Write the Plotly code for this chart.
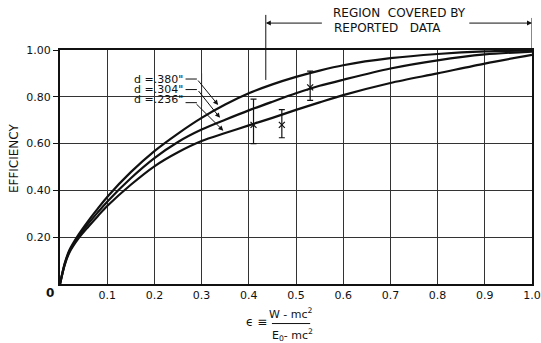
import plotly.graph_objects as go

# ---- data ----
eps = [0, 0.01, 0.02, 0.04, 0.06, 0.08, 0.1, 0.15, 0.2, 0.25, 0.3, 0.35,
       0.4, 0.45, 0.5, 0.55, 0.6, 0.7, 0.8, 0.9, 1.0]
eff_380 = [0, 0.088, 0.145, 0.213, 0.27, 0.322, 0.372, 0.478, 0.568, 0.643, 0.71, 0.767,
           0.815, 0.853, 0.885, 0.912, 0.935, 0.965, 0.983, 0.994, 0.998]
eff_304 = [0, 0.085, 0.14, 0.205, 0.258, 0.306, 0.352, 0.452, 0.538, 0.607, 0.66, 0.702,
           0.742, 0.779, 0.815, 0.847, 0.873, 0.921, 0.956, 0.981, 0.993]
eff_236 = [0, 0.082, 0.135, 0.197, 0.245, 0.29, 0.333, 0.424, 0.503, 0.563, 0.611, 0.645,
           0.678, 0.71, 0.744, 0.776, 0.807, 0.859, 0.90, 0.942, 0.979]

meas_eps = [0.41, 0.47, 0.53]
meas_eff = [0.68, 0.68, 0.84]
meas_err_plus = [0.11, 0.065, 0.07]
meas_err_minus = [0.08, 0.055, 0.055]

curve_labels = ['d =.380"', 'd =.304"', 'd =.236"']
x_tick_vals = [0.1, 0.2, 0.3, 0.4, 0.5, 0.6, 0.7, 0.8, 0.9, 1.0]
x_tick_text = ["0.1", "0.2", "0.3", "0.4", "0.5", "0.6", "0.7", "0.8", "0.9", "1.0"]
y_tick_vals = [0.2, 0.4, 0.6, 0.8, 1.0]
y_tick_text = ["0.20", "0.40", "0.60", "0.80", "1.00"]
region_start = 0.436

FONT = "DejaVu Sans"
INK = "#111111"

fig = go.Figure()
for ys in (eff_380, eff_304, eff_236):
    fig.add_trace(go.Scatter(x=eps, y=ys, mode="lines",
                             line=dict(color=INK, width=2.2, shape="spline", smoothing=0.8),
                             showlegend=False, hoverinfo="skip"))

fig.add_trace(go.Scatter(
    x=meas_eps, y=meas_eff, mode="markers",
    marker=dict(symbol="x-thin", size=6, line=dict(color=INK, width=1.2)),
    error_y=dict(type="data", symmetric=False, array=meas_err_plus, arrayminus=meas_err_minus,
                 color=INK, thickness=1.2, width=3),
    showlegend=False, hoverinfo="skip"))

shapes = []
# white patch erasing the grid behind the labels
shapes.append(dict(type="rect", xref="x", yref="y", x0=0.133, x1=0.337, y0=0.765, y1=0.89,
                   fillcolor="white", line=dict(width=0), layer="below"))
shapes.append(dict(type="line", xref="x", yref="y", x0=0.3, x1=0.3, y0=0.76, y1=0.9,
                   line=dict(color="#333", width=1), layer="below"))
# region bracket
shapes.append(dict(type="line", xref="x", yref="paper", x0=region_start, x1=region_start, y0=0.872, y1=1.15,
                   line=dict(color=INK, width=1)))
shapes.append(dict(type="line", xref="x", yref="paper", x0=1.0, x1=1.0, y0=1.0, y1=1.137,
                   line=dict(color=INK, width=1)))
# leader horizontal stubs
for yv in (0.876, 0.831, 0.775):
    shapes.append(dict(type="line", xref="x", yref="y", x0=0.266, x1=0.290, y0=yv, y1=yv,
                       line=dict(color=INK, width=1)))
# fraction bar
shapes.append(dict(type="line", xref="paper", yref="paper", x0=0.449, x1=0.530, y0=-0.169, y1=-0.169,
                   line=dict(color=INK, width=1)))

ann = []
# region arrows
ann.append(dict(x=region_start, y=1.115, xref="x", yref="paper", ax=0.558, ay=0, axref="x", ayref="pixel",
                text="", showarrow=True, arrowhead=2, arrowsize=1, arrowwidth=1, arrowcolor=INK))
ann.append(dict(x=1.0, y=1.115, xref="x", yref="paper", ax=0.864, ay=0, axref="x", ayref="pixel",
                text="", showarrow=True, arrowhead=2, arrowsize=1, arrowwidth=1, arrowcolor=INK))
ann.append(dict(x=0.574, y=1.159, xref="x", yref="paper", text="REGION  COVERED BY", showarrow=False,
                xanchor="left", yanchor="middle", font=dict(family=FONT, size=12, color=INK)))
ann.append(dict(x=0.576, y=1.093, xref="x", yref="paper", text="REPORTED   DATA", showarrow=False,
                xanchor="left", yanchor="middle", font=dict(family=FONT, size=12, color=INK)))
# curve labels and leaders
label_y = [0.876, 0.833, 0.79]
tails = [(0.290, 0.876), (0.291, 0.831), (0.286, 0.775)]
tips = [(0.335, 0.765), (0.339, 0.71), (0.346, 0.655)]
for lab, ly, (tx, ty), (hx, hy) in zip(curve_labels, label_y, tails, tips):
    ann.append(dict(x=0.265, y=ly, xref="x", yref="y", text=lab, showarrow=False, xanchor="right",
                    yanchor="middle", font=dict(family=FONT, size=11, color=INK)))
    ann.append(dict(x=hx, y=hy, xref="x", yref="y", ax=tx, ay=ty, axref="x", ayref="y", text="",
                    showarrow=True, arrowhead=2, arrowsize=1, arrowwidth=1, arrowcolor=INK))
# origin label
ann.append(dict(x=-0.021, y=-0.038, xref="paper", yref="paper", text="<b>0</b>", showarrow=False,
                xanchor="center", yanchor="middle", font=dict(family=FONT, size=12, color=INK)))
# y title
ann.append(dict(x=-0.0975, y=0.538, xref="paper", yref="paper", text="EFFICIENCY", textangle=-90,
                showarrow=False, xanchor="center", yanchor="middle",
                font=dict(family=FONT, size=12, color=INK)))
# x title (fraction)
ann.append(dict(x=0.417, y=-0.162, xref="paper", yref="paper", text="ϵ ≡", showarrow=False,
                xanchor="center", yanchor="middle", font=dict(family=FONT, size=12, color=INK)))
ann.append(dict(x=0.489, y=-0.165, xref="paper", yref="paper", text="W - mc<sup>2</sup>", showarrow=False,
                xanchor="center", yanchor="bottom", font=dict(family=FONT, size=11, color=INK)))
ann.append(dict(x=0.492, y=-0.175, xref="paper", yref="paper", text="E<sub>0</sub>- mc<sup>2</sup>",
                showarrow=False, xanchor="center", yanchor="top", font=dict(family=FONT, size=11, color=INK)))

fig.update_layout(
    width=541, height=343, autosize=False,
    margin=dict(l=60, r=9, t=50, b=59),
    paper_bgcolor="white", plot_bgcolor="white",
    shapes=shapes, annotations=ann,
    font=dict(family=FONT, size=11, color=INK),
)
fig.update_xaxes(range=[0, 1.0], tickvals=x_tick_vals, ticktext=x_tick_text, showgrid=True,
                 gridcolor="#333", gridwidth=1, showline=True, linecolor=INK, linewidth=2, mirror=True,
                 ticks="", zeroline=False, ticklabelstandoff=0, automargin=False,
                 tickfont=dict(family=FONT, size=11, color=INK))
fig.update_yaxes(range=[0, 1.0], tickvals=y_tick_vals, ticktext=y_tick_text, showgrid=True,
                 gridcolor="#333", gridwidth=1, showline=True, linecolor=INK, linewidth=2, mirror=True,
                 ticks="outside", ticklen=5, tickcolor=INK, zeroline=False, ticklabelstandoff=0,
                 automargin=False, tickfont=dict(family=FONT, size=11, color=INK))

fig.write_html("out.html",
               config={"responsive": False, "displayModeBar": False},
               post_script="document.body.style.margin='0';document.body.style.overflow='hidden';")
